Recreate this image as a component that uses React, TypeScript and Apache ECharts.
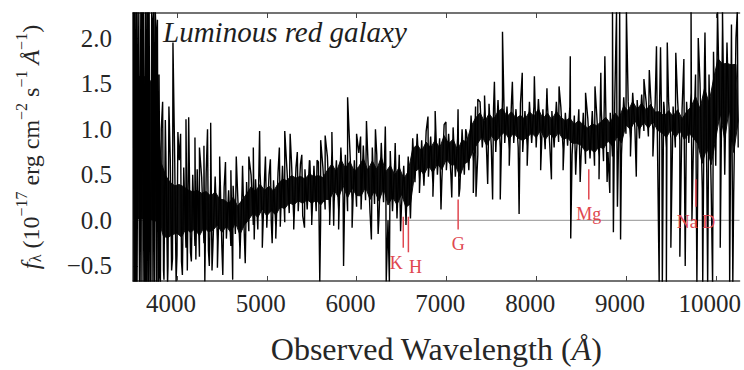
import React, { useEffect, useRef } from 'react';
import * as echarts from 'echarts';

// ---- data ----
const X_MIN = 3510;
const X_MAX = 10265;
const Y_MIN = -0.665;
const Y_MAX = 2.275;
const XTICKS = [4000, 5000, 6000, 7000, 8000, 9000, 10000];
const YTICKS = [-0.5, 0, 0.5, 1, 1.5, 2];

// spectrum core band: upper excursion at bin start, lower excursion half a bin later
const BIN_START = 3525;
const BIN_STEP = 50;
const CORE_HIGH = [
  2.3, 2.3, 2.3, 2.28, 2.2, 1.9, 1.0, 0.8, 0.68, 0.62,
  0.66, 0.58, 0.55, 0.5, 0.56, 0.47, 0.52, 0.44, 0.48, 0.4,
  0.36, 0.33, 0.38, 0.3, 0.35, 0.42, 0.5, 0.45, 0.52, 0.46,
  0.5, 0.44, 0.52, 0.6, 0.55, 0.64, 0.58, 0.62, 0.56, 0.66,
  0.6, 0.64, 0.58, 0.7, 0.75, 0.66, 0.8, 0.72, 0.78, 0.66,
  0.74, 0.82, 0.7, 0.8, 0.72, 0.85, 0.7, 0.76, 0.65, 0.72,
  0.6, 0.7, 0.9, 0.95, 0.88, 0.98, 0.92, 1.0, 0.9, 1.05,
  0.95, 1.02, 0.9, 1.0, 0.96, 1.15, 1.25, 1.3, 1.2, 1.28,
  1.22, 1.32, 1.35, 1.25, 1.3, 1.22, 1.28, 1.2, 1.3, 1.25,
  1.33, 1.22, 1.28, 1.2, 1.3, 1.24, 1.18, 1.25, 1.15, 1.22,
  1.18, 1.12, 1.2, 1.15, 1.22, 1.25, 1.18, 1.3, 1.25, 1.35,
  1.3, 1.4, 1.32, 1.38, 1.3, 1.36, 1.28, 1.3, 1.25, 1.3,
  1.25, 1.32, 1.22, 1.3, 1.4, 1.6, 1.5, 1.75, 1.6, 1.85,
  2.05, 2.1, 1.95, 2.15, 2.0,
];
const CORE_LOW = [
  -0.7, -0.7, -0.7, -0.7, -0.7, -0.62, -0.55, -0.5, -0.42, -0.38,
  -0.45, -0.3, -0.35, -0.28, -0.4, -0.25, -0.33, -0.28, -0.22, -0.3,
  -0.2, -0.28, -0.15, -0.3, -0.18, -0.12, -0.05, -0.1, 0.0, -0.08,
  -0.02, -0.06, 0.03, -0.02, 0.08, 0.02, 0.1, 0.05, 0.12, 0.04,
  0.1, 0.02, 0.12, 0.08, 0.2, 0.12, 0.25, 0.1, 0.22, 0.15,
  0.12, 0.22, 0.08, 0.18, 0.05, 0.2, 0.0, 0.1, 0.02, 0.15,
  0.0, 0.02, 0.42, 0.45, 0.38, 0.48, 0.4, 0.5, 0.45, 0.55,
  0.5, 0.48, 0.35, 0.5, 0.55, 0.65, 0.72, 0.8, 0.7, 0.82,
  0.75, 0.8, 0.85, 0.78, 0.85, 0.8, 0.75, 0.82, 0.85, 0.8,
  0.88, 0.78, 0.85, 0.8, 0.86, 0.78, 0.82, 0.72, 0.75, 0.7,
  0.62, 0.68, 0.6, 0.7, 0.65, 0.75, 0.7, 0.8, 0.72, 0.95,
  0.9, 1.0, 0.9, 0.98, 0.92, 1.0, 0.9, 0.85, 0.8, 0.9,
  0.8, 0.88, 0.78, 0.85, 0.75, 0.6, 0.35, 0.5, 0.3, 0.6,
  0.9, 0.5, 1.0, 0.3, 0.8,
];
// individual noise spikes and sky-line residuals [wavelength, flux]
const SPIKES: [number, number][] = [
  [3515, 2.3], [3520, -0.7], [3530, 2.3], [3535, -0.7], [3542, 2.3], [3550, 2.3], [3555, -0.7],
  [3560, -0.7], [3568, 2.3], [3582, -0.7], [3590, 2.3], [3600, -0.7], [3607, 2.3], [3615, 2.3],
  [3622, -0.7], [3632, 2.3], [3640, -0.7], [3647, 2.3], [3655, 2.3], [3665, -0.7], [3672, 2.3],
  [3682, -0.7], [3690, 2.3], [3700, -0.7], [3710, -0.7], [3718, 2.3], [3732, -0.7], [3740, 2.3],
  [3750, -0.7], [3758, 2.3], [3765, 2.1], [3772, -0.7], [3782, 2.2],
  [3790, -0.7], [3800, 1.6], [3815, -0.7], [3840, 1.3], [3855, -0.65], [3870, 1.1], [3895, -0.7],
  [3910, 1.25], [3940, -0.55], [3955, 1.95], [3990, -0.67], [4010, 0.97], [4040, 0.95], [4060, -0.6],
  [4100, 1.11], [4115, -0.55], [4130, 1.13], [4160, -0.45], [4200, 0.91], [4210, -0.43], [4250, 0.8],
  [4300, 0.82], [4310, -0.67], [4340, 1.0], [4360, -0.5], [4375, 1.07], [4390, -0.55], [4450, -0.52],
  [4475, 0.7], [4510, -0.6], [4540, 0.64], [4600, 0.55], [4620, -0.65], [4660, 0.7], [4700, -0.42],
  [4730, 0.6], [4760, -0.47], [4800, 0.7], [4850, 0.8], [4860, -0.21], [4920, 0.98], [4950, -0.3],
  [4985, 0.7], [5040, 0.67], [5060, -0.25], [5100, -0.2], [5140, 0.8], [5150, -0.07], [5200, 0.98],
  [5260, 0.95], [5300, -0.1], [5340, 0.75], [5390, 0.72], [5420, -0.08], [5480, 0.65], [5500, -0.05],
  [5560, 0.66], [5590, -0.67], [5600, 0.88], [5650, 0.93], [5700, -0.05], [5725, 0.97], [5745, -0.06],
  [5800, -0.1], [5855, -0.5], [5900, 1.35], [5950, -0.08], [6000, 0.95], [6045, 0.92], [6110, 1.09],
  [6165, -0.21], [6210, 1.0], [6240, -0.15], [6320, 1.03], [6330, -0.67], [6365, -0.67], [6430, 0.85],
  [6490, -0.12], [6550, -0.05], [6630, 0.9], [6700, 0.3], [6795, 1.14], [6850, 0.26], [6875, 1.2],
  [6940, 0.12], [6995, 1.08], [7060, 0.25], [7130, 1.22], [7140, 0.26], [7215, 1.0], [7300, 0.3],
  [7330, 0.26], [7350, 1.33], [7425, 1.37], [7460, 0.4], [7515, 0.23], [7535, 1.52], [7600, 0.23],
  [7625, 2.07], [7700, 0.6], [7735, 1.52], [7810, 0.07], [7845, 1.62], [7900, 0.6], [7980, 1.58],
  [8050, 0.55], [8120, 1.45], [8170, 0.45], [8255, 1.47], [8300, 0.55], [8380, 1.8], [8385, -0.2],
  [8440, 0.5], [8490, 0.42], [8550, 1.4], [8655, 1.47], [8700, 0.45], [8720, 1.62], [8765, 1.8],
  [8790, 0.42], [8820, 0.3], [8850, 2.3], [8860, -0.13], [8895, 2.3], [8905, 0.15], [8930, 2.3],
  [8940, -0.21], [9005, 2.3], [9050, 0.7], [9115, 0.48], [9200, 1.55], [9260, 1.65], [9300, 0.7],
  [9340, 1.91], [9370, -0.7], [9385, 1.9], [9405, -0.7], [9420, 1.3], [9450, -0.7], [9460, 1.95],
  [9500, -0.3], [9555, 1.84], [9600, -0.4], [9645, 1.77], [9660, -0.5], [9725, 2.3], [9735, 0.0],
  [9790, -0.7], [9805, 2.0], [9855, -0.7], [9880, 2.06], [9910, -0.7], [9965, -0.7], [10020, 2.3],
  [10050, -0.3], [10075, 2.3], [10155, -0.7], [10190, -0.7], [10240, 2.3],
];

// absorption features: name, wavelength, line top, line bottom (flux units)
const MARKER_NAMES = ['K', 'H', 'G', 'Mg', 'Na D'];
const MARKER_WAVE = [6520, 6577, 7131, 8586, 9779];
const MARKER_TOP = [0.04, 0.04, 0.23, 0.56, 0.45];
const MARKER_BOTTOM = [-0.3, -0.35, -0.1, 0.23, 0.15];

const SERIF = 'Liberation Serif';
const RED = '#e0474f';
const INK = '#262626';
const CORE_FILL_SHRINK = 0.24; // solid inner part of the band, drawn under the noisy trace

function buildSpectrum(): [number, number][] {
  const pts: [number, number][] = [];
  CORE_HIGH.forEach((v, i) => pts.push([BIN_START + i * BIN_STEP, v]));
  CORE_LOW.forEach((v, i) => pts.push([BIN_START + i * BIN_STEP + BIN_STEP / 2, v]));
  SPIKES.forEach((p) => pts.push([p[0], p[1]]));
  pts.sort((a, b) => a[0] - b[0]);
  return pts;
}

function buildCore(): [number, number][] {
  const top: [number, number][] = [];
  const bottom: [number, number][] = [];
  CORE_HIGH.forEach((hi, i) => {
    const lo = CORE_LOW[i];
    const d = (hi - lo) * CORE_FILL_SHRINK;
    top.push([BIN_START + i * BIN_STEP, hi - d]);
    bottom.push([BIN_START + i * BIN_STEP + BIN_STEP / 2, lo + d]);
  });
  return top.concat(bottom.reverse());
}

export default function App() {
  const ref = useRef<HTMLDivElement>(null);
  useEffect(() => {
    const chart = echarts.init(ref.current!, null, { renderer: 'svg' });
    const labelDx: Record<string, number> = { K: -7, H: 7 };
    const core = buildCore();
    const option: any = {
      animation: false,
      backgroundColor: '#fff',
      grid: { left: 133, right: 0, top: 13, bottom: 88 },
      xAxis: [
        {
          type: 'value', min: X_MIN, max: X_MAX, position: 'bottom',
          axisLine: { show: true, onZero: false, lineStyle: { color: '#444', width: 1.5 } },
          axisTick: { show: true, inside: true, length: 5, customValues: XTICKS, lineStyle: { color: '#444' } },
          axisLabel: {
            customValues: XTICKS, margin: 10, color: INK, fontFamily: SERIF, fontSize: 25,
            padding: [0, 12, 0, 0], formatter: (v: number) => String(v),
          },
          splitLine: { show: false },
          name: '{n|Observed Wavelength (}{i|Å}{n|)}',
          nameLocation: 'middle', nameGap: 52,
          nameTextStyle: {
            rich: {
              n: { fontFamily: SERIF, fontSize: 32, color: INK },
              i: { fontFamily: SERIF, fontSize: 32, fontStyle: 'italic', color: INK },
            },
          },
        },
        {
          type: 'value', min: X_MIN, max: X_MAX, position: 'top',
          axisLine: { show: true, onZero: false, lineStyle: { color: '#444', width: 1.5 } },
          axisTick: { show: true, inside: true, length: 5, customValues: XTICKS, lineStyle: { color: '#444' } },
          axisLabel: { show: false },
          splitLine: { show: false },
        },
      ],
      yAxis: [
        {
          type: 'value', min: Y_MIN, max: Y_MAX,
          axisLine: { show: true, onZero: false, lineStyle: { color: '#444', width: 1.5 } },
          axisTick: { show: true, inside: true, length: 5, customValues: YTICKS, lineStyle: { color: '#444' } },
          axisLabel: {
            customValues: YTICKS, margin: 21, color: INK, fontFamily: SERIF, fontSize: 25,
            formatter: (v: number) => (v < 0 ? '\u2212' + Math.abs(v).toFixed(1) : v.toFixed(1)),
          },
          splitLine: { show: false },
          name: '{fi|f}{sub|λ}{n| (10}{sup|\u221217}{n| erg cm}{sup|\u22122}{n| s}{sup|\u22121}{n| }{ai|Å}{sup|\u22121}{n|)}',
          nameLocation: 'middle', nameRotate: 90, nameGap: 90,
          nameTextStyle: {
            rich: {
              n: { fontFamily: SERIF, fontSize: 24, color: INK, lineHeight: 30, verticalAlign: 'bottom' },
              fi: { fontFamily: SERIF, fontSize: 25, fontStyle: 'italic', color: INK, lineHeight: 30, verticalAlign: 'bottom' },
              ai: { fontFamily: SERIF, fontSize: 24, fontStyle: 'italic', color: INK, lineHeight: 30, verticalAlign: 'bottom' },
              sup: { fontFamily: SERIF, fontSize: 16, color: INK, lineHeight: 16, verticalAlign: 'top' },
              sub: { fontFamily: SERIF, fontSize: 16, color: INK, lineHeight: 12, verticalAlign: 'bottom' },
            },
          },
        },
      ],
      graphic: [
        {
          type: 'text', left: 163, top: 17, z: 20,
          style: { text: 'Luminous red galaxy', fontStyle: 'italic', fontSize: 29, fontFamily: SERIF, fill: '#1e1e1e' },
        },
      ],
      series: [
        {
          type: 'line', silent: true, symbol: 'none', z: 1,
          data: [[X_MIN, 0], [X_MAX, 0]],
          lineStyle: { color: '#a8a8a8', width: 1.3 },
        },
        {
          type: 'custom', silent: true, z: 2, clip: true,
          data: [[0]],
          renderItem: (_p: any, api: any) => ({
            type: 'polygon',
            shape: { points: core.map((pt) => api.coord(pt)) },
            style: { fill: '#111', stroke: '#111', lineWidth: 1 },
          }),
        },
        {
          type: 'line', silent: true, symbol: 'none', z: 3,
          data: buildSpectrum(),
          lineStyle: { color: '#000', width: 1.4 },
        },
        {
          type: 'custom', silent: true, z: 4,
          data: MARKER_WAVE.map((w, i) => [w, MARKER_TOP[i], MARKER_BOTTOM[i]]),
          renderItem: (params: any, api: any) => {
            const name = MARKER_NAMES[params.dataIndex];
            const p1 = api.coord([api.value(0), api.value(1)]);
            const p2 = api.coord([api.value(0), api.value(2)]);
            return {
              type: 'group',
              children: [
                { type: 'line', shape: { x1: p1[0], y1: p1[1], x2: p2[0], y2: p2[1] }, style: { stroke: RED, lineWidth: 1.5 } },
                {
                  type: 'text', x: p2[0] + (labelDx[name] || 0), y: p2[1] + 15,
                  style: { text: name, fill: RED, fontFamily: SERIF, fontSize: 18, align: 'center', verticalAlign: 'middle' },
                },
              ],
            };
          },
        },
      ],
    };
    chart.setOption(option);
    return () => chart.dispose();
  }, []);
  return (
    <div
      ref={ref}
      style={{ position: 'absolute', left: 0, top: 0, width: 744, height: 370, background: '#fff' }}
    />
  );
}
